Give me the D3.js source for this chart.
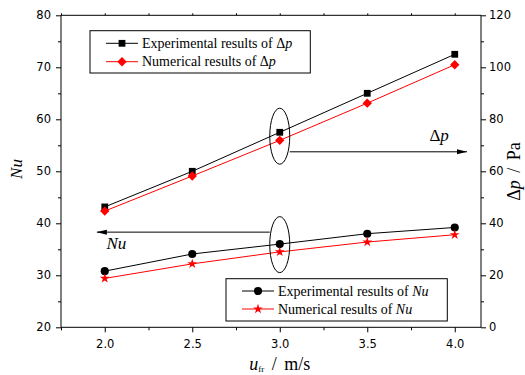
<!DOCTYPE html>
<html>
<head>
<meta charset="utf-8">
<script src="https://cdn.jsdelivr.net/npm/d3@7"></script>
<style>
  html, body { margin: 0; padding: 0; background: #fff; }
  svg { display: block; }
  .tick-label { font-family: "DejaVu Sans", sans-serif; font-size: 11.5px; fill: #000; }
  .serif { font-family: "Liberation Serif", "Times New Roman", serif; fill: #000; }
</style>
</head>
<body>
<svg id="chart" width="525" height="375"></svg>
<script>
// Frontal air velocity (m/s)
const velocity = [2.0, 2.5, 3.0, 3.5, 4.0];

// Pressure drop, Pa (right axis)
const dpExperimental = [46.3, 60.0, 75.0, 90.0, 105.0];
const dpNumerical    = [44.7, 58.2, 71.9, 86.2, 101.0];

// Nusselt number (left axis)
const nuExperimental = [30.8, 34.1, 36.0, 38.0, 39.2];
const nuNumerical    = [29.4, 32.2, 34.5, 36.4, 37.8];

// Axis ticks
const xTicks = [2.0, 2.5, 3.0, 3.5, 4.0];
const xMinor = [1.75, 2.25, 2.75, 3.25, 3.75];
const nuTicks = [20, 30, 40, 50, 60, 70, 80];
const nuMinor = [25, 35, 45, 55, 65, 75];
const dpTicks = [0, 20, 40, 60, 80, 100, 120];
const dpMinor = [10, 30, 50, 70, 90, 110];

const legendTop = [
  { label: "Experimental results of ", sym: "\u0394", it: "p", color: "#000", shape: "square" },
  { label: "Numerical results of ",    sym: "\u0394", it: "p", color: "#ff0000", shape: "diamond" }
];
const legendBottom = [
  { label: "Experimental results of ", sym: "", it: "Nu", color: "#000", shape: "circle" },
  { label: "Numerical results of ",    sym: "", it: "Nu", color: "#ff0000", shape: "star" }
];

const svg = d3.select("#chart");
const plotLeft = 61, plotRight = 481, plotTop = 15.3, plotBottom = 327.3;

const x = d3.scaleLinear().domain([1.75, 4.15]).range([plotLeft, plotRight]);
const yNu = d3.scaleLinear().domain([20, 80]).range([plotBottom, plotTop]);
const yDp = d3.scaleLinear().domain([0, 120]).range([plotBottom, plotTop]);

function markerPath(shape) {
  if (shape === "square") return d3.symbol(d3.symbolSquare, 46)();
  if (shape === "diamond") return d3.symbol(d3.symbolSquare, 44)();
  if (shape === "circle") return d3.symbol(d3.symbolCircle, 52)();
  return d3.symbol(d3.symbolStar, 30)();
}
function drawMarker(g, shape, color, cx, cy) {
  g.append("path")
    .attr("d", markerPath(shape))
    .attr("transform", `translate(${cx},${cy})` + (shape === "diamond" ? " rotate(45)" : ""))
    .attr("fill", color);
}

// Frame
const frame = svg.append("g").attr("stroke", "#000").attr("stroke-width", 1).attr("fill", "none");
frame.append("line").attr("x1", plotLeft).attr("x2", plotRight).attr("y1", plotTop).attr("y2", plotTop);
frame.append("line").attr("x1", plotLeft).attr("x2", plotRight).attr("y1", plotBottom).attr("y2", plotBottom);
frame.append("line").attr("x1", plotLeft).attr("x2", plotLeft).attr("y1", plotTop).attr("y2", plotBottom);
frame.append("line").attr("x1", plotRight).attr("x2", plotRight).attr("y1", plotTop).attr("y2", plotBottom);

// Bottom axis
const gx = svg.append("g").attr("transform", `translate(0,${plotBottom})`);
gx.call(d3.axisBottom(x).tickValues(xTicks).tickSize(5).tickFormat(d3.format(".1f")));
gx.append("g").call(d3.axisBottom(x).tickValues(xMinor).tickSize(3).tickFormat(""));
// Top axis (ticks only)
const gt = svg.append("g").attr("transform", `translate(0,${plotTop})`);
gt.call(d3.axisTop(x).tickValues(xTicks.concat(xMinor)).tickSize(2).tickFormat(""));

// Left axis (Nu)
const gl = svg.append("g").attr("transform", `translate(${plotLeft},0)`);
gl.call(d3.axisLeft(yNu).tickValues(nuTicks).tickSize(5).tickPadding(5));
gl.append("g").call(d3.axisLeft(yNu).tickValues(nuMinor).tickSize(3).tickFormat(""));

// Right axis (pressure drop)
const gr = svg.append("g").attr("transform", `translate(${plotRight},0)`);
gr.call(d3.axisRight(yDp).tickValues(dpTicks).tickSize(5).tickPadding(3));
gr.append("g").call(d3.axisRight(yDp).tickValues(dpMinor).tickSize(3).tickFormat(""));

svg.selectAll(".domain").remove();
svg.selectAll(".tick line").attr("stroke", "#000");
svg.selectAll(".tick text").attr("class", "tick-label").attr("fill", "#000");
svg.selectAll("g[font-family]").attr("font-family", null).attr("font-size", null);
gx.selectAll(".tick text").attr("dy", null).attr("y", 20.5);

// Series
const series = [
  { values: dpExperimental, y: yDp, color: "#000", shape: "square" },
  { values: dpNumerical,    y: yDp, color: "#ff0000", shape: "diamond" },
  { values: nuExperimental, y: yNu, color: "#000", shape: "circle" },
  { values: nuNumerical,    y: yNu, color: "#ff0000", shape: "star" }
];
series.forEach(s => {
  const pts = velocity.map((v, i) => [x(v), s.y(s.values[i])]);
  svg.append("path")
    .attr("d", d3.line()(pts))
    .attr("fill", "none")
    .attr("stroke", s.color)
    .attr("stroke-width", 1);
  const g = svg.append("g");
  pts.forEach(p => drawMarker(g, s.shape, s.color, p[0], p[1]));
});

// Arrowhead
svg.append("defs").append("marker")
  .attr("id", "arrowhead")
  .attr("viewBox", "0 0 10 6")
  .attr("refX", 10).attr("refY", 3)
  .attr("markerWidth", 10).attr("markerHeight", 6)
  .attr("markerUnits", "userSpaceOnUse")
  .attr("orient", "auto")
  .append("path").attr("d", "M0,0.5 L10,3 L0,5.5 Z").attr("fill", "#000");

// Annotation: pressure-drop curves belong to the right axis
const ex = x(3.0);
const ellipseRx = 10, ellipseRy = 28;
const dpCy = yDp(73.5);
svg.append("ellipse").attr("cx", ex).attr("cy", dpCy).attr("rx", ellipseRx).attr("ry", ellipseRy)
  .attr("fill", "none").attr("stroke", "#000");
const dpArrowY = yDp(67.5);
svg.append("line")
  .attr("x1", ex + ellipseRx).attr("x2", x(4.07))
  .attr("y1", dpArrowY).attr("y2", dpArrowY)
  .attr("stroke", "#000").attr("marker-end", "url(#arrowhead)");
const dpLabel = svg.append("text").attr("class", "serif").attr("x", x(3.855)).attr("y", dpArrowY - 11)
  .style("font-size", "17px");
dpLabel.append("tspan").text("\u0394");
dpLabel.append("tspan").style("font-style", "italic").text("p");

// Annotation: Nu curves belong to the left axis
const nuCy = yNu(35.9);
svg.append("ellipse").attr("cx", ex).attr("cy", nuCy).attr("rx", ellipseRx).attr("ry", ellipseRy)
  .attr("fill", "none").attr("stroke", "#000");
const nuArrowY = yNu(38.3);
svg.append("line")
  .attr("x1", ex - ellipseRx).attr("x2", x(1.955))
  .attr("y1", nuArrowY).attr("y2", nuArrowY)
  .attr("stroke", "#000").attr("marker-end", "url(#arrowhead)");
svg.append("text").attr("class", "serif").attr("x", x(2.01)).attr("y", nuArrowY + 17)
  .style("font-size", "17px").style("font-style", "italic").text("Nu");

// Legends
function drawLegend(items, bx, by, bw, bh, rowY0, rowGap) {
  const g = svg.append("g");
  g.append("rect").attr("x", bx).attr("y", by).attr("width", bw).attr("height", bh)
    .attr("fill", "#fff").attr("stroke", "#000");
  items.forEach((d, i) => {
    const ry = rowY0 + i * rowGap;
    g.append("line").attr("x1", bx + 16).attr("x2", bx + 48).attr("y1", ry).attr("y2", ry)
      .attr("stroke", d.color);
    drawMarker(g, d.shape, d.color, bx + 32, ry);
    const t = g.append("text").attr("class", "serif").attr("x", bx + 52).attr("y", ry + 4.5)
      .style("font-size", "14px");
    t.append("tspan").text(d.label + d.sym);
    t.append("tspan").style("font-style", "italic").text(d.it);
  });
}
drawLegend(legendTop, 90, 30.7, 220.3, 42.3, 43.3, 18.4);
drawLegend(legendBottom, 226, 278.7, 221.3, 42.3, 291, 18);

// Axis titles
svg.append("text").attr("class", "serif")
  .attr("transform", "translate(21.5,169) rotate(-90)")
  .attr("text-anchor", "middle")
  .style("font-size", "17px").style("font-style", "italic").text("Nu");

const rt = svg.append("text").attr("class", "serif")
  .attr("transform", "translate(520,171.5) rotate(-90)")
  .attr("text-anchor", "middle")
  .style("font-size", "18px").style("word-spacing", "3px");
rt.append("tspan").text("\u0394");
rt.append("tspan").style("font-style", "italic").text("p");
rt.append("tspan").text(" / Pa");

const bt = svg.append("text").attr("class", "serif")
  .attr("x", x(3.0)).attr("y", 369.5)
  .attr("text-anchor", "middle")
  .style("font-size", "18px").style("word-spacing", "3px");
bt.append("tspan").style("font-style", "italic").text("u");
bt.append("tspan").attr("dy", 2.5).style("font-size", "9px").text("fr");
bt.append("tspan").attr("dy", -2.5).text(" / m/s");
</script>
</body>
</html>
